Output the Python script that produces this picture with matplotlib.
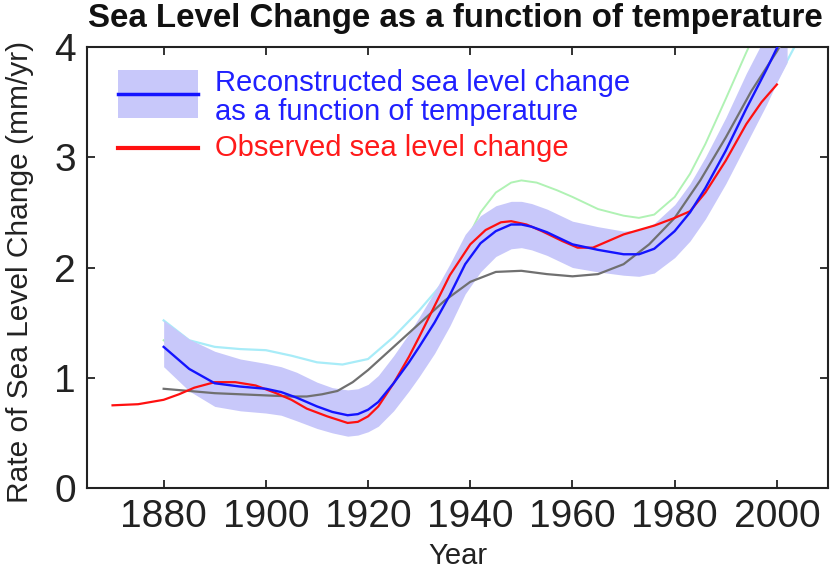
import matplotlib
matplotlib.use("Agg")
import matplotlib.pyplot as plt
from matplotlib.patches import Rectangle
from matplotlib.lines import Line2D

plt.rcParams['font.family'] = ['Liberation Sans', 'DejaVu Sans']

# Reconstructed sea level change (blue) and its uncertainty band
rec_years = [1880, 1885, 1890, 1895, 1900, 1903, 1906, 1910, 1913, 1916, 1918, 1920, 1922, 1925,
             1928, 1930, 1933, 1936, 1939, 1942, 1945, 1948, 1950, 1952, 1955, 1960, 1965, 1970,
             1973, 1976, 1980, 1983, 1986, 1990, 1994, 1998, 2000, 2002]
rec_vals = [1.28, 1.08, 0.95, 0.92, 0.90, 0.87, 0.82, 0.74, 0.69, 0.66, 0.67, 0.71, 0.78, 0.95,
            1.14, 1.28, 1.50, 1.75, 2.03, 2.22, 2.33, 2.39, 2.39, 2.37, 2.32, 2.21, 2.16, 2.12,
            2.12, 2.17, 2.33, 2.50, 2.72, 3.06, 3.44, 3.80, 3.99, 4.18]
rec_upper = [1.52, 1.35, 1.24, 1.17, 1.13, 1.10, 1.05, 0.96, 0.91, 0.89, 0.90, 0.94, 1.02, 1.20,
             1.40, 1.55, 1.78, 2.03, 2.30, 2.47, 2.56, 2.60, 2.60, 2.58, 2.53, 2.42, 2.37, 2.33,
             2.34, 2.40, 2.57, 2.76, 3.00, 3.36, 3.76, 4.12, 4.32, 4.52]
rec_lower = [1.10, 0.88, 0.74, 0.70, 0.68, 0.66, 0.61, 0.54, 0.50, 0.47, 0.48, 0.51, 0.56, 0.70,
             0.88, 1.01, 1.22, 1.47, 1.76, 1.96, 2.10, 2.17, 2.18, 2.16, 2.11, 2.00, 1.96, 1.93,
             1.92, 1.95, 2.09, 2.24, 2.44, 2.76, 3.12, 3.48, 3.68, 3.86]

# Observed sea level change (red)
obs_years = [1870, 1875, 1880, 1883, 1886, 1890, 1894, 1898, 1902, 1905, 1908, 1912, 1916, 1918,
             1920, 1922, 1925, 1928, 1930, 1933, 1936, 1940, 1943, 1946, 1948, 1951, 1954, 1958,
             1961, 1964, 1967, 1970, 1973, 1976, 1980, 1983, 1986, 1990, 1994, 1997, 2000]
obs_vals = [0.75, 0.76, 0.80, 0.85, 0.91, 0.96, 0.96, 0.93, 0.86, 0.80, 0.72, 0.65, 0.59, 0.60,
            0.65, 0.74, 0.95, 1.19, 1.37, 1.65, 1.93, 2.21, 2.34, 2.41, 2.42, 2.39, 2.33, 2.24,
            2.18, 2.18, 2.24, 2.30, 2.34, 2.38, 2.45, 2.51, 2.68, 2.97, 3.30, 3.50, 3.66]

# Gray model curve
gray_years = [1880, 1885, 1890, 1895, 1900, 1905, 1908, 1911, 1914, 1917, 1920, 1925, 1930, 1935,
              1940, 1945, 1950, 1955, 1960, 1965, 1970, 1975, 1980, 1985, 1990, 1995, 2000, 2002]
gray_vals = [0.90, 0.88, 0.86, 0.85, 0.84, 0.83, 0.83, 0.85, 0.88, 0.96, 1.07, 1.28, 1.49, 1.70,
             1.87, 1.96, 1.97, 1.94, 1.92, 1.94, 2.03, 2.21, 2.45, 2.79, 3.18, 3.60, 3.96, 4.12]

# Cyan model curve
cyan_years = [1880, 1885, 1890, 1895, 1900, 1905, 1910, 1915, 1920, 1925, 1930, 1935, 1940, 1945,
              1950, 1955, 1960, 1965, 1970, 1975, 1980, 1985, 1990, 1995, 2000, 2004]
cyan_vals = [1.52, 1.34, 1.28, 1.26, 1.25, 1.20, 1.14, 1.12, 1.17, 1.37, 1.61, 1.88, 2.15, 2.33,
             2.38, 2.30, 2.20, 2.10, 2.04, 2.08, 2.24, 2.50, 2.88, 3.30, 3.70, 4.05]

# Green model curve
green_years = [1880, 1885, 1890, 1900, 1910, 1915, 1920, 1925, 1930, 1933, 1936, 1939, 1942, 1945,
               1948, 1950, 1953, 1957, 1960, 1965, 1970, 1973, 1976, 1980, 1983, 1986, 1990, 1994, 1996]
green_vals = [1.34, 1.15, 1.05, 0.95, 0.85, 0.82, 0.88, 1.10, 1.45, 1.68, 1.92, 2.22, 2.50, 2.68,
              2.77, 2.79, 2.77, 2.70, 2.64, 2.53, 2.47, 2.45, 2.48, 2.64, 2.85, 3.12, 3.53, 3.95, 4.15]

x_ticks = [1880, 1900, 1920, 1940, 1960, 1980, 2000]
y_ticks = [0, 1, 2, 3, 4]

W, H = 831, 569
fig = plt.figure(figsize=(W / 100, H / 100), dpi=100)
ax = fig.add_axes([87 / W, (H - 488) / H, (828 - 87) / W, (488 - 47) / H])

ax.plot(cyan_years, cyan_vals, color='#a8ecf8', lw=1.6, zorder=1)
ax.plot(green_years, green_vals, color='#b0f2b4', lw=1.4, zorder=1)
ax.fill_between(rec_years, rec_lower, rec_upper, color='#c8c8fa', lw=0, zorder=2)
ax.plot(gray_years, gray_vals, color='#707070', lw=1.6, zorder=3)
ax.plot(obs_years, obs_vals, color='#ff1010', lw=1.6, zorder=4)
ax.plot(rec_years, rec_vals, color='#1414ff', lw=1.7, zorder=5)

ax.set_xlim(1865, 2010)
ax.set_ylim(0, 4)
ax.set_xticks(x_ticks)
ax.set_yticks(y_ticks)
ax.set_xticklabels([str(v) for v in x_ticks], fontsize=28)
ax.set_yticklabels([str(v) for v in y_ticks], fontsize=28)
ax.tick_params(direction='in', top=True, right=True, length=6, width=1.3,
               labelright=False, labeltop=False, pad=8, colors='#222222')
for s in ax.spines.values():
    s.set_linewidth(1.5)
    s.set_color('#222222')

ax.set_xlabel('Year', fontsize=21, labelpad=5, color='#222222')
ax.set_ylabel('Rate of Sea Level Change (mm/yr)', fontsize=21.5, color='#222222')
ax.yaxis.set_label_coords(-0.071, 0.49)

fig.text(88 / W, 1 - 18 / H, 'Sea Level Change as a function of temperature',
         fontsize=23.8, fontweight='bold', ha='left', va='center', color='#111111')

# legend
ax.add_patch(Rectangle((0.0418, 0.839), 0.108, 0.109, transform=ax.transAxes,
                       color='#c8c8fa', lw=0, zorder=6))
ax.add_line(Line2D([0.0418, 0.1498], [0.893, 0.893], transform=ax.transAxes,
                   color='#1414ff', lw=2.5, zorder=7))
ax.add_line(Line2D([0.0418, 0.1498], [0.771, 0.771], transform=ax.transAxes,
                   color='#ff1010', lw=3, zorder=7))
ax.text(0.1727, 0.918, 'Reconstructed sea level change', transform=ax.transAxes,
        fontsize=21, color='#2020ff', ha='left', va='center')
ax.text(0.1727, 0.853, 'as a function of temperature', transform=ax.transAxes,
        fontsize=21, color='#2020ff', ha='left', va='center')
ax.text(0.1727, 0.771, 'Observed sea level change', transform=ax.transAxes,
        fontsize=21, color='#ff1a1a', ha='left', va='center')

fig.savefig('out.png', dpi=100)
